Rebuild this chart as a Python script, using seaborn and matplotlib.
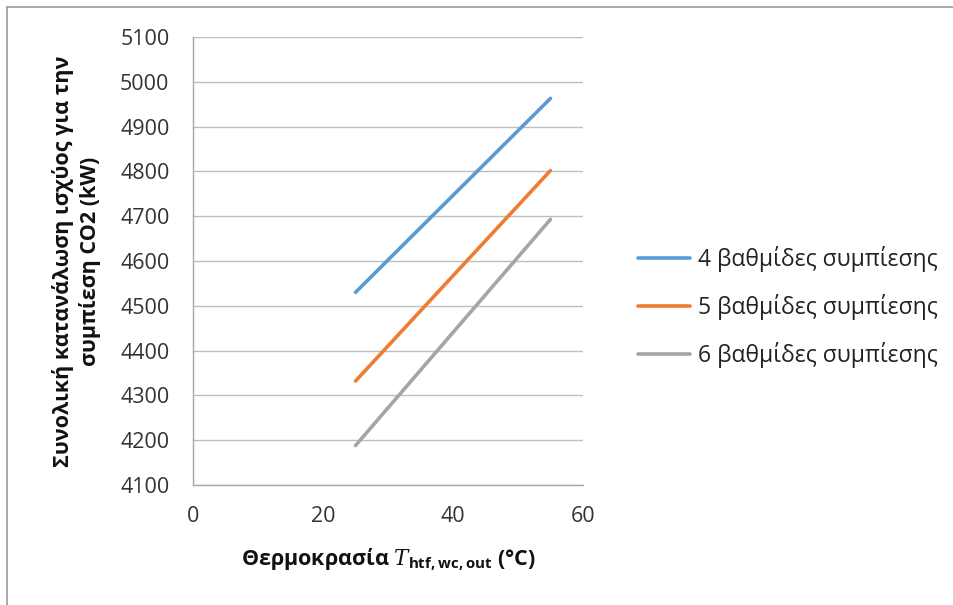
import matplotlib
matplotlib.use("Agg")
import matplotlib.pyplot as plt
import seaborn as sns
import pandas as pd
from matplotlib.lines import Line2D

# Data
temperature = [25, 55]
series_names = ["4 βαθμίδες συμπίεσης", "5 βαθμίδες συμπίεσης", "6 βαθμίδες συμπίεσης"]
power_4 = [4530, 4963]
power_5 = [4332, 4802]
power_6 = [4188, 4693]
colors = ["#5B9BD5", "#ED7D31", "#A5A5A5"]
xticks = [0, 20, 40, 60]
yticks = list(range(4100, 5101, 100))

rows = []
for name, vals in zip(series_names, [power_4, power_5, power_6]):
    for t, v in zip(temperature, vals):
        rows.append({"T": t, "P": v, "series": name})
df = pd.DataFrame(rows)

sns.set_theme(style="white")
plt.rcParams['font.family'] = ['Open Sans', 'DejaVu Sans']
plt.rcParams['mathtext.fontset'] = 'custom'
plt.rcParams['mathtext.rm'] = 'Open Sans:bold'
plt.rcParams['mathtext.it'] = 'DejaVu Serif:italic'
plt.rcParams['mathtext.bf'] = 'Open Sans:bold'

fig = plt.figure(figsize=(9.54, 6.05), dpi=100)
ax = fig.add_axes([193/954, 1-485/605, (583-193)/954, (485-37)/605])

sns.lineplot(data=df, x="T", y="P", hue="series", palette=colors, linewidth=2.6,
             ax=ax, legend=True)
for l in ax.lines:
    l.set_solid_capstyle('round')

ax.set_xlim(0, 60)
ax.set_ylim(4100, 5100)
ax.set_xticks(xticks)
ax.set_yticks(yticks)
ax.tick_params(axis='both', labelsize=15.5, colors='#333333', length=0)
ax.tick_params(axis='y', pad=17)
ax.tick_params(axis='x', pad=15)
ax.yaxis.grid(True, color='#BDBDBD', linewidth=1.0)
ax.xaxis.grid(False)
for s in ['top', 'right']:
    ax.spines[s].set_visible(False)
for s in ['left', 'bottom']:
    ax.spines[s].set_color('#A6A6A6')
    ax.spines[s].set_linewidth(1.0)

ax.set_ylabel("Συνολική κατανάλωση ισχύος για την\nσυμπίεση CO2 (kW)",
              fontsize=15.5, fontweight='bold', color='#111111', labelpad=14, linespacing=1.25)
ax.set_xlabel(r"Θερμοκρασία $\mathit{T}_{\mathrm{htf,wc,out}}$ (°C)",
              fontsize=15.5, fontweight='bold', color='#111111', labelpad=14)

handles, labels = ax.get_legend_handles_labels()
leg = ax.legend(handles=handles, labels=labels, loc='center left',
                bbox_to_anchor=(638/954, 1-307/605), bbox_transform=fig.transFigure,
                frameon=False, fontsize=16.5, handlelength=2.25, handletextpad=0.35,
                labelspacing=0.95, borderaxespad=0, borderpad=0)
for t in leg.get_texts():
    t.set_color('#222222')

# outer chart border (top and left visible)
fig.add_artist(Line2D([7/954, 1], [1-7/605, 1-7/605], transform=fig.transFigure,
                      color='#9A9A9A', linewidth=1.2))
fig.add_artist(Line2D([7/954, 7/954], [0, 1-7/605], transform=fig.transFigure,
                      color='#9A9A9A', linewidth=1.2))

fig.savefig("out.png", dpi=100)
